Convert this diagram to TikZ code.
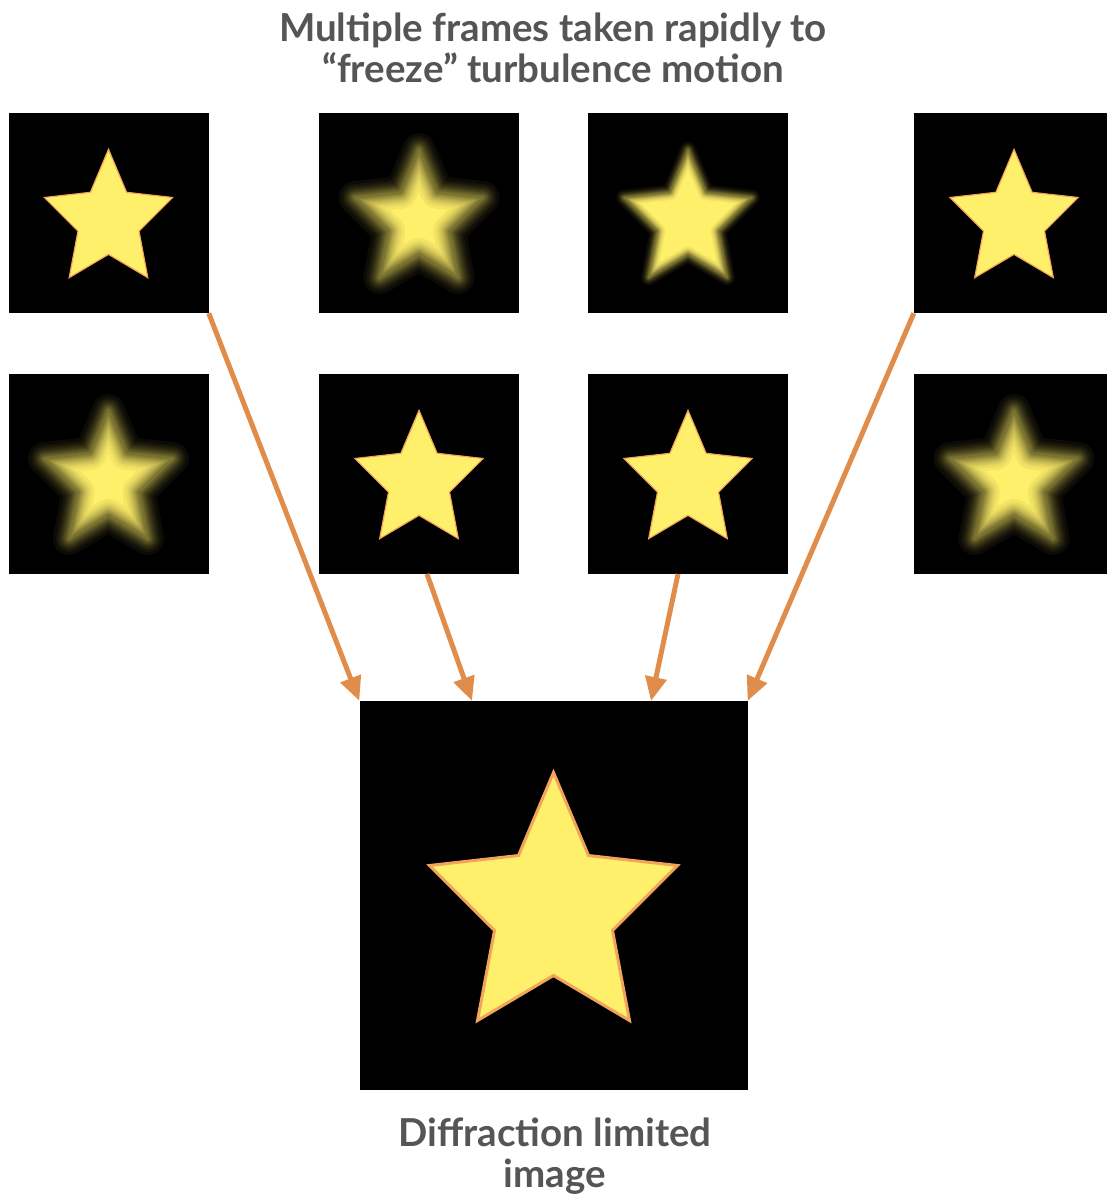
\documentclass[tikz,border=0pt]{standalone}
\usepackage{fontspec}
\setmainfont{Lato}
\usetikzlibrary{arrows.meta}

\definecolor{staryellow}{HTML}{FFF06C}
\definecolor{staredge}{HTML}{F2A45A}
\definecolor{arroworange}{HTML}{E08D4C}
\definecolor{captiongray}{HTML}{555555}

% five-pointed star outline, centre at the origin (large-frame size)
\newcommand\starshape{(0,-123) -- (35,-40) -- (124,-30) -- (59,35) -- (76,125)
  -- (0,80) -- (-76,125) -- (-59,35) -- (-124,-30) -- (-35,-40) -- cycle}

% offsets (in units of sigma) of the stacked strokes that fake a Gaussian edge
\newcommand\blursteps{1.73,1.39,1.165,1.0,0.86,0.74,0.64,0.545,0.46,0.38,0.305,0.24,0.175,0.113,0.055}

% blurred star: #1,#2 centre, #3 blur sigma
% (glow outside the outline, darkened rim inside it, half brightness on the outline)
\newcommand\blurstar[3]{%
  \begin{scope}[shift={(#1,#2)},scale=0.517]
    \foreach \m in \blursteps{
      \draw[staryellow,line join=round,line width={2*#3*\m},draw opacity=0.0452] \starshape;
    }
    \fill[staryellow] \starshape;
    \begin{scope}
      \clip \starshape;
      \foreach \m in \blursteps{
        \draw[black,line join=round,line width={2*#3*\m},draw opacity=0.0452] \starshape;
      }
    \end{scope}
  \end{scope}}

% sharp star: #1,#2 centre, #3 scale, #4 outline width
\newcommand\sharpstar[4]{%
  \begin{scope}[shift={(#1,#2)},scale=#3]
    \filldraw[fill=staryellow,draw=staredge,line width=#4,line join=miter] \starshape;
  \end{scope}}

\tikzset{
  frame/.style={rectangle,fill=black,inner sep=0pt,minimum size=200pt},
  bigframe/.style={rectangle,fill=black,inner sep=0pt,minimum width=388pt,minimum height=389pt},
  caption/.style={text=captiongray,font=\fontsize{38.5}{41}\selectfont\bfseries,align=center,inner sep=0pt},
  feed/.style={arroworange,line width=5pt,-{Triangle[length=24pt,width=21pt]}}
}

\begin{document}
\begin{tikzpicture}[x=1pt,y=-1pt]
  \useasboundingbox (0,0) rectangle (1107,1194);
  \clip (0,0) rectangle (1107,1194);

  % caption
  \node[caption,anchor=north] (title) at (553,13) {Multiple frames taken rapidly to\\“freeze” turbulence motion};

  % short-exposure frames
  \node[frame] (f1) at (108.5,213) {};
  \node[frame] (f2) at (419,213) {};
  \node[frame] (f3) at (688,213) {};
  \node[frame] (f4) at (1014,213) {};
  \node[frame] (f5) at (108.5,474) {};
  \node[frame] (f6) at (419,474) {};
  \node[frame] (f7) at (688,474) {};
  \node[frame] (f8) at (1014,474) {};

  \sharpstar{108.5}{213}{0.517}{1.2pt}
  \blurstar{419}{213}{9.5}
  \blurstar{688}{213}{4.5}
  \sharpstar{1014}{213}{0.517}{1.2pt}
  \blurstar{108.5}{474}{9.5}
  \sharpstar{419}{474}{0.517}{1.2pt}
  \sharpstar{688}{474}{0.517}{1.2pt}
  \blurstar{1014}{474}{9.5}

  % combined result
  \node[bigframe] (big) at (553.5,895.5) {};
  \sharpstar{553.5}{895.5}{1}{3pt}

  \node[caption,anchor=north] (result) at (555,1118) {Diffraction limited\\image};

  % selected frames feed the final image
  \coordinate (s2) at (427,574);
  \coordinate (t2) at (472,701);
  \coordinate (s3) at (678,574);
  \coordinate (t3) at (651,701);
  \draw[feed] (f1.south east) -- (big.north west);
  \draw[feed] (s2) -- (t2);
  \draw[feed] (s3) -- (t3);
  \draw[feed] (f4.south west) -- (big.north east);
\end{tikzpicture}
\end{document}
